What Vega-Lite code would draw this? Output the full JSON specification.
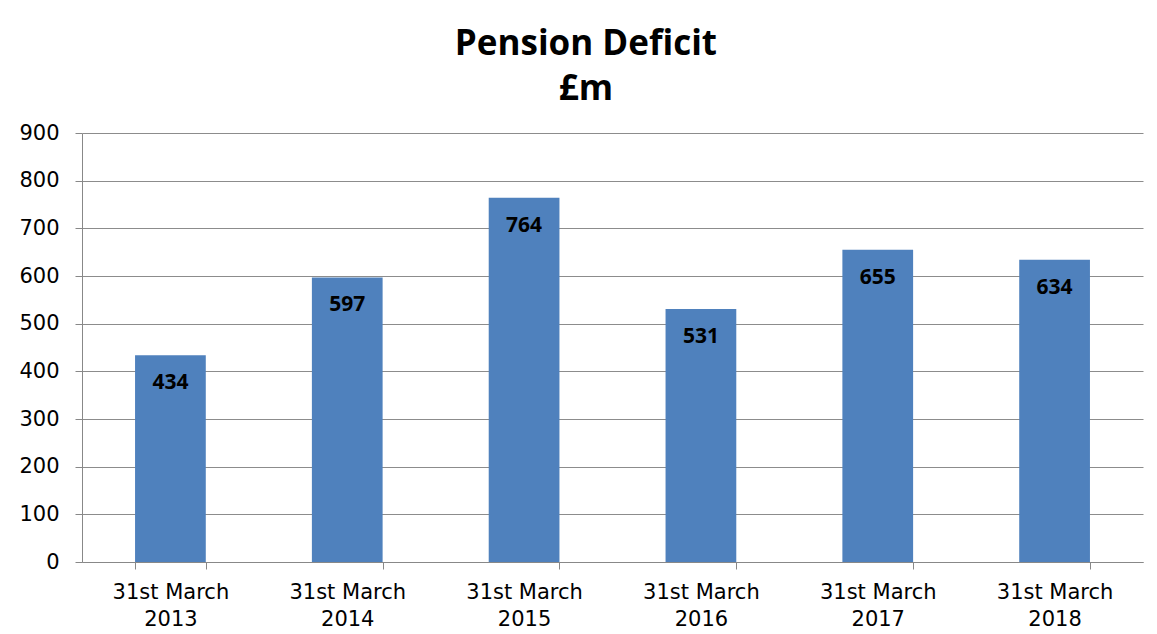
{
  "$schema": "https://vega.github.io/schema/vega-lite/v6.json",
  "width": 1061,
  "height": 429,
  "autosize": {"type": "none"},
  "padding": {"left": 82, "top": 133, "right": 14, "bottom": 72},
  "background": "white",
  "title": {
    "text": ["Pension Deficit", "£m"],
    "font": "Open Sans",
    "fontSize": 35,
    "fontWeight": "bold",
    "color": "#000000",
    "anchor": "middle",
    "frame": "bounds",
    "lineHeight": 45,
    "offset": 15,
    "dx": 5
  },
  "config": {
    "view": {"stroke": null},
    "axis": {"labelFont": "DejaVu Sans", "labelColor": "#000000"}
  },
  "data": {
    "values": [
      {"date": "31st March 2013", "deficit": 434},
      {"date": "31st March 2014", "deficit": 597},
      {"date": "31st March 2015", "deficit": 764},
      {"date": "31st March 2016", "deficit": 531},
      {"date": "31st March 2017", "deficit": 655},
      {"date": "31st March 2018", "deficit": 634}
    ]
  },
  "encoding": {
    "x": {
      "field": "date",
      "type": "nominal",
      "sort": null,
      "scale": {"paddingInner": 0.6, "paddingOuter": 0.3},
      "axis": {
        "title": null,
        "labelAngle": 0,
        "labelFontSize": 21,
        "labelExpr": "length(datum.label || '') > 4 ? ['31st March', slice(datum.label, -4)] : ''",
        "labelLineHeight": 27,
        "labelPadding": 12,
        "tickBand": "extent",
        "tickSize": 7,
        "tickColor": "#888888",
        "domainColor": "#888888",
        "grid": false
      }
    },
    "y": {
      "field": "deficit",
      "type": "quantitative",
      "scale": {"domain": [0, 900], "nice": false},
      "axis": {
        "title": null,
        "values": [0, 100, 200, 300, 400, 500, 600, 700, 800, 900],
        "labelFontSize": 21,
        "labelPadding": 16,
        "tickSize": 7,
        "tickColor": "#888888",
        "domainColor": "#888888",
        "gridColor": "#8c8c8c",
        "gridWidth": 1
      }
    }
  },
  "layer": [
    {"mark": {"type": "bar", "color": "#4F81BD"}},
    {
      "mark": {"type": "text", "baseline": "middle", "dy": 28, "font": "Open Sans", "fontWeight": "bold", "fontSize": 21, "color": "#000000"},
      "encoding": {"text": {"field": "deficit", "type": "quantitative"}}
    }
  ]
}
